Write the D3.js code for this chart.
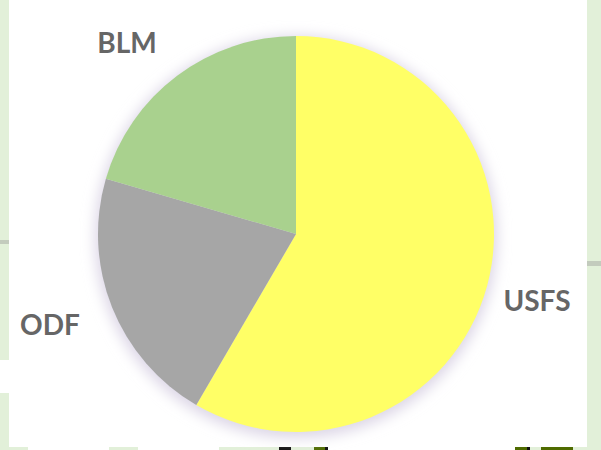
<!DOCTYPE html>
<html>
<head>
<meta charset="utf-8">
<script src="https://cdn.jsdelivr.net/npm/d3@7"></script>
<style>
  body { margin: 0; background: #e2f0d9; }
  svg { display: block; }
</style>
</head>
<body>
<div id="chart"></div>
<script>
// Pie data (share of land)
var owners = ["USFS", "ODF", "BLM"];
var shares = [58.4, 21.1, 20.5];
var colors = ["#ffff66", "#a6a6a6", "#a9d18e"];

var svgWidth = 601;
var svgHeight = 450;

var svg = d3.select("#chart")
    .append("svg")
    .attr("width", svgWidth)
    .attr("height", svgHeight);

// slide background: light green with a white panel
svg.append("rect")
    .attr("width", svgWidth)
    .attr("height", svgHeight)
    .attr("fill", "#e2f0d9");

svg.append("rect")
    .attr("x", 9)
    .attr("y", 0)
    .attr("width", 578)
    .attr("height", 447)
    .attr("fill", "#ffffff");

// white gaps in the left strip and the bottom strip
svg.append("rect").attr("x", 0).attr("y", 360).attr("width", 10).attr("height", 33).attr("fill", "#ffffff");
[[28, 81], [138, 81], [328, 187]].forEach(d => {
    svg.append("rect").attr("x", d[0]).attr("y", 447).attr("width", d[1]).attr("height", 3).attr("fill", "#ffffff");
});
// small gray ticks at the edges
svg.append("rect").attr("x", 0).attr("y", 240).attr("width", 9).attr("height", 4).attr("fill", "#c3cbbd");
svg.append("rect").attr("x", 587).attr("y", 261).attr("width", 14).attr("height", 5).attr("fill", "#c3cbbd");
// cut-off dark text at the very bottom
[[279, 12, "#111"], [314, 11, "#4f6b00"], [325, 3, "#111"], [515, 12, "#4f6b00"], [527, 3, "#111"], [541, 32, "#4f6b00"]].forEach(d => {
    svg.append("rect").attr("x", d[0]).attr("y", 447).attr("width", d[1]).attr("height", 3).attr("fill", d[2]);
});

var cx = 296, cy = 234, radius = 198;

var defs = svg.append("defs");
defs.append("filter")
    .attr("id", "halo")
    .attr("x", "-20%").attr("y", "-20%")
    .attr("width", "140%").attr("height", "140%")
    .append("feGaussianBlur")
    .attr("stdDeviation", 7);

var pieGroup = svg.append("g")
    .attr("transform", `translate(${cx}, ${cy})`);

// soft shadow under the pie
pieGroup.append("circle")
    .attr("r", radius + 3)
    .attr("cy", 3)
    .attr("fill", "#dcd6e6")
    .attr("filter", "url(#halo)");

var pie = d3.pie().sort(null).value(d => d);
var arc = d3.arc().innerRadius(0).outerRadius(radius);
var color = d3.scaleOrdinal().domain(owners).range(colors);

pieGroup.selectAll("path")
    .data(pie(shares))
    .join("path")
    .attr("d", arc)
    .attr("fill", (d, i) => color(owners[i]));

// labels outside the pie
var labelPos = {
    "USFS": [537, 300],
    "ODF": [50, 324],
    "BLM": [127, 42]
};

svg.append("g")
    .selectAll("text")
    .data(owners)
    .join("text")
    .attr("x", d => labelPos[d][0])
    .attr("y", d => labelPos[d][1])
    .attr("text-anchor", "middle")
    .attr("dominant-baseline", "central")
    .style("font-family", "Lato, 'Open Sans', sans-serif")
    .style("font-weight", "bold")
    .style("font-size", "28px")
    .style("fill", "#666666")
    .text(d => d);
</script>
</body>
</html>
